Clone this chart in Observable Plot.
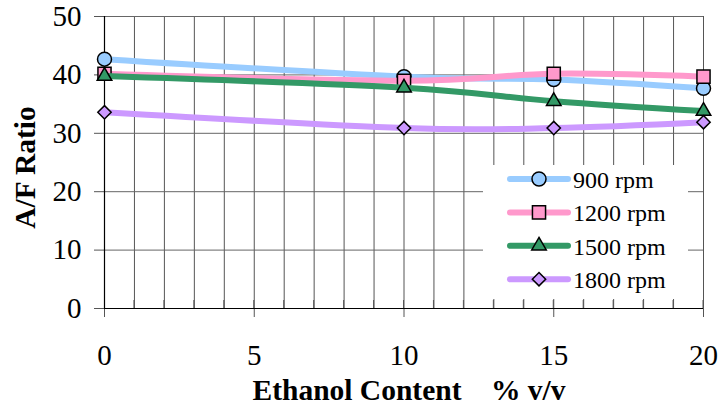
<!DOCTYPE html>
<html>
<head>
<meta charset="utf-8">
<script src="https://cdn.jsdelivr.net/npm/d3@7"></script>
<script src="https://cdn.jsdelivr.net/npm/@observablehq/plot@0.6"></script>
<style>
  body { margin: 0; background: #fff; }
  #chart { width: 721px; height: 407px; }
</style>
</head>
<body>
<div id="chart"></div>
<script>
// ---- data ----
const ethanol = [0, 10, 15, 20];
const seriesNames = ["900 rpm", "1200 rpm", "1500 rpm", "1800 rpm"];
const rpm900  = [42.7, 39.7, 39.2, 37.7];
const rpm1200 = [40.2, 39.0, 40.2, 39.7];
const rpm1500 = [39.8, 37.8, 35.5, 33.8];
const rpm1800 = [33.6, 30.9, 30.9, 31.9];
const xTicks = [0, 5, 10, 15, 20];
const xMinor = [1, 2, 3, 4, 5, 6, 7, 8, 9, 10, 11, 12, 13, 14, 15, 16, 17, 18, 19, 20];
const yTicks = [0, 10, 20, 30, 40, 50];
const yGrid = [10, 20, 30, 40, 50];
const xTitle = "Ethanol Content\u00a0\u00a0\u00a0 % v/v";
const yTitle = "A/F Ratio";

// ---- styles ----
const colors = ["#99CCFF", "#FF99CC", "#339966", "#CC99FF"];
const symbols = ["circle", "square", "triangle", "diamond2"];
const radii = [7, 7.4, 5.4, 6];
const d3symbols = [d3.symbolCircle, d3.symbolSquare, d3.symbolTriangle, d3.symbolDiamond2];
const FONT = "Liberation Serif";

const valuesBySeries = [rpm900, rpm1200, rpm1500, rpm1800];
const rows = [];
seriesNames.forEach((s, i) => ethanol.forEach((x, j) => rows.push({series: s, x, y: valuesBySeries[i][j], i})));

const seriesMarks = [];
seriesNames.forEach((s, i) => {
  const d = rows.filter(r => r.series === s);
  seriesMarks.push(Plot.line(d, {x: "x", y: "y", stroke: colors[i], strokeWidth: 6, curve: "cardinal", tension: 0}));
  seriesMarks.push(Plot.dot(d, {x: "x", y: "y", symbol: () => symbols[i], fill: colors[i], stroke: "#000", strokeWidth: 1.5, r: radii[i]}));
});

const plot = Plot.plot({
  width: 721,
  height: 407,
  marginLeft: 104,
  marginRight: 18,
  marginTop: 16,
  marginBottom: 99,
  style: {fontFamily: FONT, fontSize: "29px", background: "#fff", color: "#000"},
  x: {domain: [0, 20]},
  y: {domain: [0, 50]},
  symbol: {type: "identity"},
  marks: [
    Plot.gridX(xMinor, {stroke: "#555", strokeOpacity: 1, strokeWidth: 1}),
    Plot.gridY(yGrid, {stroke: "#666", strokeOpacity: 1, strokeWidth: 1}),
    Plot.axisY({ticks: yTicks, tickSize: 10, tickPadding: 13, label: null, stroke: "#555", fontSize: 29, fontFamily: FONT}),
    Plot.axisX({ticks: xTicks, tickSize: 9, tickPadding: 27, label: null, stroke: "#555", fontSize: 29, fontFamily: FONT}),
    Plot.ruleY([0], {stroke: "#000", strokeWidth: 1.2}),
    Plot.ruleX([0], {stroke: "#000", strokeWidth: 1.2}),
    ...seriesMarks,
    Plot.text([xTitle], {frameAnchor: "bottom", textAnchor: "middle", lineAnchor: "middle", dy: 82, dx: 5, fontWeight: "bold", fontSize: 29.5, fontFamily: FONT}),
    Plot.text([yTitle], {frameAnchor: "left", textAnchor: "middle", lineAnchor: "middle", dx: -79, dy: 5, rotate: -90, fontWeight: "bold", fontSize: 29.5, fontFamily: FONT})
  ]
});
document.getElementById("chart").appendChild(plot);

// ---- legend (inside plot area) and minor ticks ----
const svg = d3.select(plot);
const sx = plot.scale("x"), sy = plot.scale("y");
const lg = svg.append("g").attr("font-size", 24).attr("font-family", FONT).attr("text-anchor", "start");
lg.append("rect").attr("x", 483).attr("y", 165).attr("width", 205).attr("height", 134).attr("fill", "#fff");
seriesNames.forEach((s, i) => {
  const cy = 179 + i * 33.4;
  lg.append("line").attr("x1", 510).attr("x2", 568).attr("y1", cy).attr("y2", cy)
    .attr("stroke", colors[i]).attr("stroke-width", 6).attr("stroke-linecap", "round");
  lg.append("path").attr("d", d3.symbol(d3symbols[i], Math.PI * radii[i] * radii[i])())
    .attr("transform", `translate(539,${cy})`).attr("fill", colors[i]).attr("stroke", "#000").attr("stroke-width", 1.5);
  lg.append("text").attr("x", 573).attr("y", cy + 9).attr("text-anchor", "start").text(s);
});
const y0 = sy.apply(0);
const mt = svg.append("g").attr("stroke", "#555");
xMinor.forEach(v => {
  mt.append("line").attr("x1", sx.apply(v)).attr("x2", sx.apply(v)).attr("y1", y0 - 8).attr("y2", y0);
});
</script>
</body>
</html>
